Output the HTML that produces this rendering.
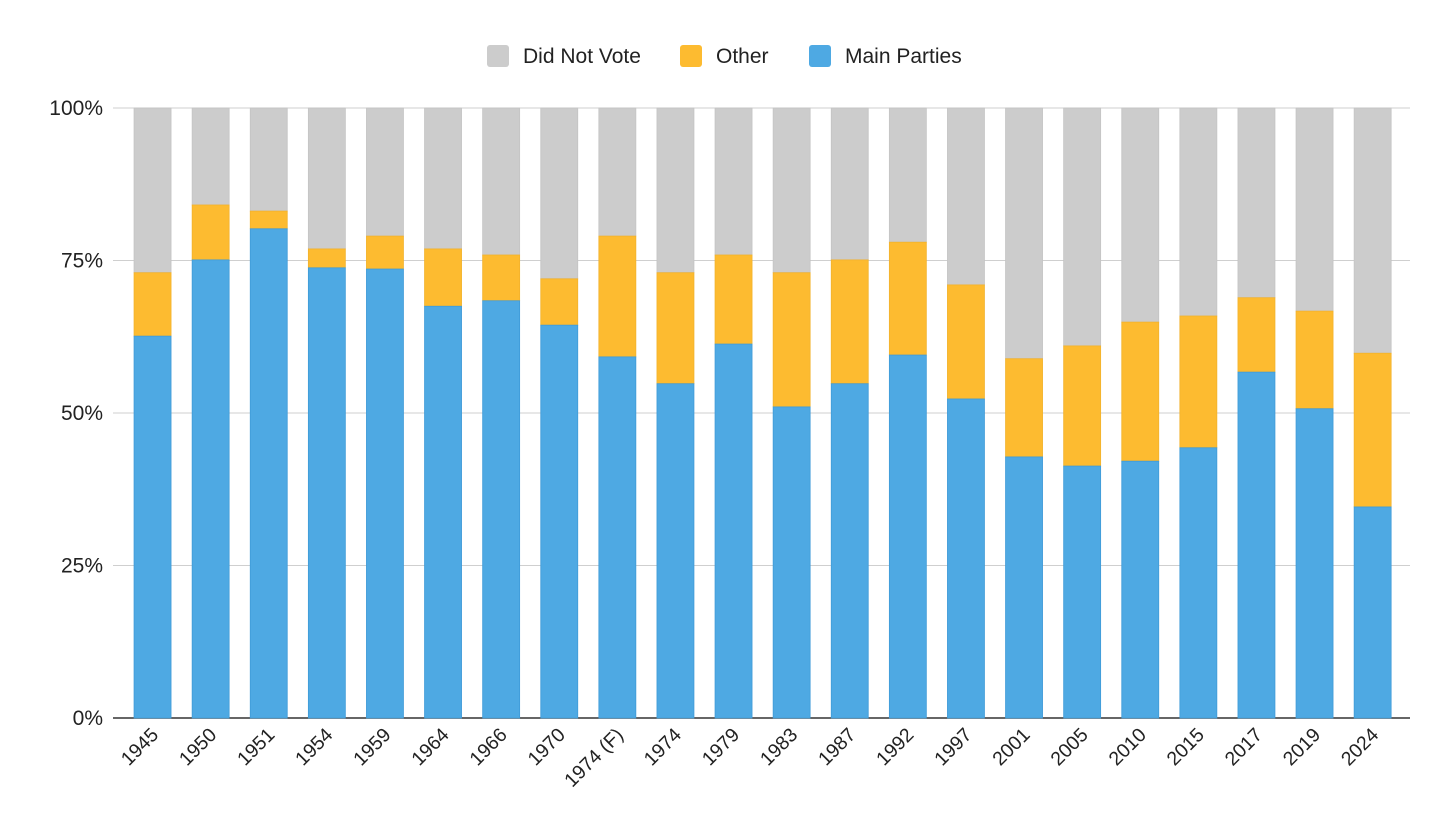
<!DOCTYPE html>
<html><head><meta charset="utf-8"><style>
html,body{margin:0;padding:0;background:#fff;}
svg{display:block;font-family:"Liberation Sans",Arial,sans-serif;}
</style></head><body>
<svg id="chart" width="1456" height="815">
<g id="legend">
 <g><rect x="487" y="45" width="22" height="22" rx="3" fill="#cccccc"/><text x="523" y="63" font-size="21" fill="#222">Did Not Vote</text></g>
 <g><rect x="680" y="45" width="22" height="22" rx="3" fill="#fdbb30"/><text x="716" y="63" font-size="21" fill="#222">Other</text></g>
 <g><rect x="809" y="45" width="22" height="22" rx="3" fill="#4ea9e3"/><text x="845" y="63" font-size="21" fill="#222">Main Parties</text></g>
</g>
<g id="grid"></g>
<g id="bars"></g>
<g id="xlabels"></g>
<g id="ylabels"></g>
</svg>
<script>
const categories=["1945","1950","1951","1954","1959","1964","1966","1970","1974 (F)","1974","1979","1983","1987","1992","1997","2001","2005","2010","2015","2017","2019","2024"];
const mainParties=[62.6,75.1,80.2,73.8,73.6,67.5,68.4,64.4,59.2,54.8,61.3,51.0,54.8,59.5,52.3,42.8,41.3,42.1,44.3,56.7,50.7,34.6];
const other=[10.4,9.0,2.9,3.1,5.4,9.4,7.5,7.6,19.8,18.2,14.6,22.0,20.3,18.5,18.7,16.1,19.7,22.8,21.6,12.2,16.0,25.2];
const yTicks=[0,25,50,75,100];
const yTickLabels=["0%","25%","50%","75%","100%"];
const NS="http://www.w3.org/2000/svg";
const plotLeft=123.5,plotRight=1401.7,y0=718,y100=108;
const band=(plotRight-plotLeft)/categories.length,barW=37;
function yScale(v){return y0-(y0-y100)*v/100;}
function xCenter(i){return plotLeft+band*(i+0.5);}
function mk(tag,attrs,parent){const e=document.createElementNS(NS,tag);for(const k in attrs)e.setAttribute(k,attrs[k]);parent.appendChild(e);return e;}
const grid=document.getElementById('grid'),bars=document.getElementById('bars'),xl=document.getElementById('xlabels'),yl=document.getElementById('ylabels');
yTicks.forEach((t,i)=>{
 const y=yScale(t);
 const l=mk('line',{x1:113,x2:1410,y1:y,y2:y,stroke:t===0?'#333':'#cfcfcf','stroke-width':t===0?1.5:1},grid);
 
 
 const tx=mk('text',{x:103,y:y+7,'text-anchor':'end','font-size':21,fill:'#222'},yl);
 tx.textContent=yTickLabels[i];
 
 
});
categories.forEach((c,i)=>{
 const cx=xCenter(i),x=cx-barW/2;
 const m=mainParties[i],o=other[i];
 const g=mk('g',{},bars);
 
 
 const r1=mk('rect',{x:x,y:yScale(100),width:barW,height:yScale(m+o)-yScale(100),fill:'#cccccc',stroke:'#c4c4c4','stroke-width':0.8},g);
 
 
 const r2=mk('rect',{x:x,y:yScale(m+o),width:barW,height:yScale(m)-yScale(m+o),fill:'#fdbb30',stroke:'#f2b22c','stroke-width':0.8},g);
 
 
 const r3=mk('rect',{x:x,y:yScale(m),width:barW,height:y0-yScale(m),fill:'#4ea9e3',stroke:'#3f9bd8','stroke-width':0.8},g);
 
 
 const t=mk('text',{x:cx+7,y:736,'text-anchor':'end','font-size':19.5,fill:'#222',transform:'rotate(-45 '+(cx+7)+' 736)'},xl);
 t.textContent=c;
 
 
});
</script>
</body></html>
